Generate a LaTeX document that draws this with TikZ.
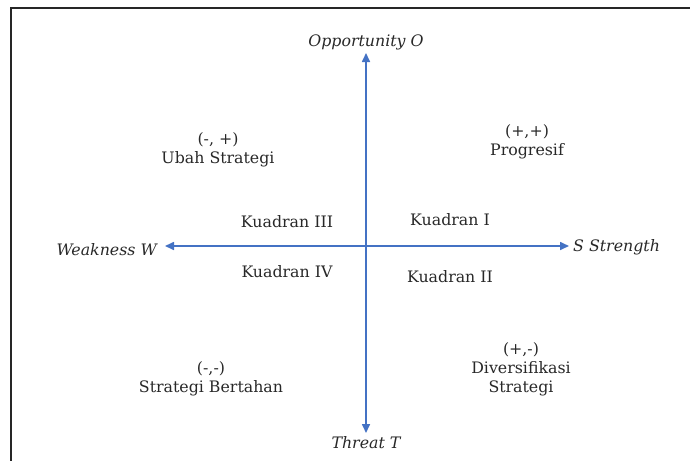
\documentclass[tikz,border=0pt]{standalone}
\usepackage{fontspec}
\setmainfont{DejaVu Serif}
\usetikzlibrary{arrows.meta}
\definecolor{axisblue}{RGB}{68,114,196}
\definecolor{txtgray}{RGB}{40,40,40}
\tikzset{
  axis/.style={draw=axisblue, line width=1.6pt, -{Triangle[length=9pt,width=8pt]}},
  lbl/.style={text=txtgray, font=\fontsize{15.8}{19}\selectfont, inner sep=1pt, align=center},
  axlbl/.style={lbl, font=\fontsize{15.8}{19}\selectfont\itshape}
}
\begin{document}
\begin{tikzpicture}[x=1pt,y=-1pt]
  \useasboundingbox (0,0) rectangle (690,461);
  \draw[line width=2pt, black!85] (690,7.5) -- (10.5,7.5) -- (10.5,461);
  % axis ends
  \coordinate (c) at (366,246);
  \coordinate (top) at (366,53);
  \coordinate (bot) at (366,433);
  \coordinate (left) at (165,246);
  \coordinate (right) at (569,246);
  \begin{scope}
    \draw[axis] (c) to (top);
    \draw[axis] (c) to (bot);
    \draw[axis] (c) to (left);
    \draw[axis] (c) to (right);
  \end{scope}
  % axis labels
  \node[axlbl] (O) at (366,42) {Opportunity O};
  \node[axlbl, anchor=east] (W) at (158,250) {Weakness W};
  \node[axlbl, anchor=west] (S) at (572,247) {S Strength};
  \node[axlbl] (T) at (366,443) {Threat T};
  % quadrants
  \node[lbl] (q3) at (287,222) {Kuadran III};
  \node[lbl] (q1) at (450,220) {Kuadran I};
  \node[lbl] (q4) at (287,272) {Kuadran IV};
  \node[lbl] (q2) at (450,277) {Kuadran II};
  % strategies
  \node[lbl] (ws) at (218,150) {(-, +)\\Ubah Strategi};
  \node[lbl] (so) at (527,142) {(+,+)\\Progresif};
  \node[lbl] (wt) at (211,379) {(-,-)\\Strategi Bertahan};
  \node[lbl] (st) at (521,369) {(+,-)\\Diversifikasi\\Strategi};
\end{tikzpicture}
\end{document}
